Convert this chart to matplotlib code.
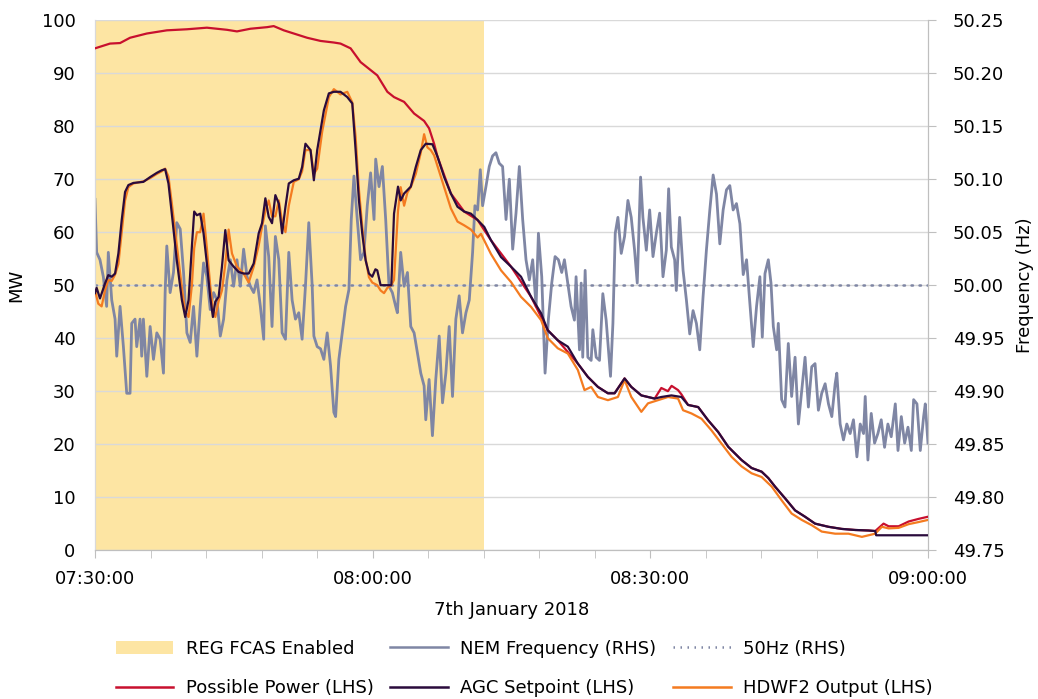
import matplotlib
matplotlib.use('Agg')
import matplotlib.pyplot as plt
from matplotlib.patches import Patch
from matplotlib.lines import Line2D

plt.rcParams['font.family'] = ['DejaVu Sans']

# minutes after 07:30:00
freq_t = [0.00, 0.18, 0.54, 0.90, 1.26, 1.44, 1.81, 2.17, 2.35, 2.71, 3.07, 3.43, 3.79, 3.97, 4.33, 4.51,
          4.87, 5.05, 5.23, 5.60, 5.96, 6.32, 6.68, 7.04, 7.40, 7.58, 7.76, 8.12, 8.48, 8.84, 9.21, 9.57,
          9.93, 10.29, 10.65, 11.01, 11.37, 11.73, 12.09, 12.45, 12.82, 13.18, 13.54, 13.90, 14.26, 14.62,
          14.98, 15.34, 15.70, 16.06, 16.43, 16.79, 17.15, 17.51, 17.87, 18.23, 18.41, 18.77, 19.13, 19.49,
          19.86, 20.22, 20.58, 20.94, 21.30, 21.66, 22.02, 22.38, 22.74, 23.10, 23.47, 23.65, 24.01, 24.37,
          24.73, 25.09, 25.45, 25.81, 26.00, 26.35, 26.72, 27.08, 27.44, 27.69, 27.98, 28.34, 28.70, 29.06,
          29.42, 29.78, 30.15, 30.33, 30.69, 31.05, 31.41, 31.77, 32.13, 32.49, 32.67, 33.03, 33.40, 33.76,
          34.12, 34.48, 34.84, 35.20, 35.56, 35.74, 36.10, 36.46, 36.82, 37.19, 37.55, 37.91, 38.27, 38.63,
          38.99, 39.35, 39.71, 40.08, 40.44, 40.80, 41.05, 41.34, 41.63, 41.88, 42.24, 42.60, 42.96, 43.32,
          43.68, 44.04, 44.41, 44.77, 45.13, 45.49, 45.85, 46.21, 46.57, 46.93, 47.29, 47.66, 47.91, 48.27,
          48.63, 48.99, 49.35, 49.71, 50.07, 50.43, 50.72, 51.08, 51.44, 51.80, 51.98, 52.35, 52.53, 52.70,
          52.96, 53.25, 53.61, 53.79, 54.15, 54.51, 54.87, 55.23, 55.70, 55.96, 56.21, 56.50, 56.86, 57.22,
          57.58, 57.94, 58.30, 58.59, 58.95, 59.20, 59.57, 59.93, 60.29, 60.65, 61.01, 61.37, 61.73, 61.98,
          62.27, 62.63, 62.81, 63.17, 63.54, 63.90, 64.26, 64.62, 64.98, 65.34, 65.70, 66.06, 66.43, 66.79,
          67.15, 67.51, 67.87, 68.23, 68.59, 68.95, 69.31, 69.68, 70.04, 70.40, 70.65, 71.12, 71.48, 71.84,
          72.10, 72.39, 72.75, 73.04, 73.29, 73.65, 73.83, 74.19, 74.55, 74.91, 75.27, 75.64, 76.00, 76.36,
          76.72, 77.08, 77.44, 77.80, 78.16, 78.52, 78.89, 79.25, 79.61, 79.97, 80.15, 80.51, 80.87, 81.23,
          81.59, 81.95, 82.32, 82.68, 83.04, 83.22, 83.51, 83.87, 84.23, 84.59, 84.95, 85.31, 85.67, 86.03,
          86.47, 86.76, 87.12, 87.48, 87.84, 88.20, 88.45, 88.81, 89.17, 89.53, 89.71, 90.00]
freq_hz = [50.081, 50.031, 50.024, 50.008, 49.980, 50.031, 49.986, 49.968, 49.933, 49.980, 49.942, 49.898,
           49.898, 49.964, 49.968, 49.942, 49.968, 49.933, 49.968, 49.914, 49.961, 49.930, 49.955, 49.949,
           49.917, 49.993, 50.037, 49.993, 50.012, 50.059, 50.053, 50.012, 49.955, 49.946, 49.980, 49.933,
           49.980, 50.021, 50.008, 49.977, 49.993, 49.986, 49.952, 49.968, 50.005, 50.024, 49.999, 50.024,
           49.999, 50.034, 50.008, 49.999, 49.993, 50.005, 49.980, 49.949, 50.056, 50.027, 49.961, 50.046,
           50.024, 49.955, 49.949, 50.031, 49.986, 49.968, 49.974, 49.949, 49.999, 50.059, 49.999, 49.952,
           49.942, 49.940, 49.930, 49.955, 49.924, 49.880, 49.876, 49.930, 49.955, 49.980, 49.996, 50.062,
           50.103, 50.062, 50.024, 50.031, 50.075, 50.106, 50.062, 50.119, 50.093, 50.112, 50.062, 49.999,
           49.993, 49.980, 49.974, 50.031, 49.999, 50.012, 49.961, 49.955, 49.936, 49.917, 49.905, 49.873,
           49.911, 49.858, 49.911, 49.952, 49.889, 49.917, 49.961, 49.895, 49.968, 49.990, 49.955, 49.974,
           49.986, 50.031, 50.075, 50.071, 50.109, 50.075, 50.093, 50.112, 50.122, 50.125, 50.115, 50.112,
           50.062, 50.100, 50.034, 50.068, 50.112, 50.062, 50.024, 50.005, 50.024, 49.980, 50.049, 50.008,
           49.917, 49.968, 50.002, 50.027, 50.024, 50.012, 50.024, 50.002, 49.980, 49.967, 50.008, 49.939,
           50.002, 49.932, 50.014, 49.932, 49.929, 49.958, 49.932, 49.929, 49.992, 49.967, 49.914, 49.964,
           50.049, 50.064, 50.030, 50.046, 50.080, 50.064, 50.033, 50.002, 50.102, 50.064, 50.033, 50.071,
           50.027, 50.049, 50.068, 50.008, 50.033, 50.091, 50.036, 50.024, 49.995, 50.064, 50.014, 49.986,
           49.954, 49.976, 49.964, 49.939, 49.989, 50.033, 50.071, 50.104, 50.086, 50.039, 50.071, 50.090,
           50.094, 50.071, 50.077, 50.058, 50.010, 50.024, 49.995, 49.942, 49.980, 50.008, 49.951, 50.011,
           50.024, 50.002, 49.961, 49.939, 49.964, 49.892, 49.885, 49.945, 49.895, 49.932, 49.869, 49.901,
           49.932, 49.885, 49.923, 49.926, 49.882, 49.898, 49.907, 49.888, 49.876, 49.907, 49.917, 49.869,
           49.854, 49.869, 49.860, 49.873, 49.838, 49.869, 49.860, 49.895, 49.835, 49.879, 49.851, 49.860,
           49.873, 49.847, 49.869, 49.857, 49.888, 49.844, 49.876, 49.851, 49.866, 49.844, 49.892, 49.888,
           49.844, 49.876, 49.888, 49.851]

agc_t = [0.00, 0.18, 0.54, 1.08, 1.44, 1.81, 2.17, 2.53, 2.89, 3.25, 3.61, 4.15, 5.23, 5.96, 6.68, 7.22,
         7.58, 7.94, 8.30, 8.84, 9.39, 9.75, 10.11, 10.47, 10.72, 11.01, 11.37, 11.73, 12.09, 12.45, 12.74,
         13.00, 13.36, 13.72, 14.08, 14.44, 14.98, 15.52, 16.06, 16.61, 17.15, 17.69, 18.05, 18.41, 18.77,
         19.13, 19.49, 19.86, 20.22, 20.58, 20.94, 21.48, 22.02, 22.38, 22.74, 23.29, 23.65, 24.01, 24.73,
         25.27, 25.81, 26.53, 27.26, 27.80, 28.16, 28.52, 28.88, 29.24, 29.60, 29.96, 30.30, 30.50, 30.86,
         31.59, 32.02, 32.31, 32.74, 33.03, 33.40, 34.12, 34.66, 35.20, 35.74, 36.46, 37.00, 37.73, 38.45,
         39.17, 39.89, 40.62, 41.34, 42.06, 42.78, 43.87, 44.95, 46.03, 47.12, 48.20, 48.92, 50.00, 51.09,
         52.17, 53.25, 54.34, 55.42, 56.14, 57.22, 57.95, 59.03, 59.75, 60.47, 61.19, 62.28, 63.36, 64.08,
         65.17, 66.25, 67.33, 68.42, 69.86, 70.94, 72.03, 72.75, 73.47, 74.55, 75.64, 76.72, 77.80, 79.25,
         80.69, 82.13, 83.58, 84.30, 84.40, 90.00]
agc_mw = [48.5, 49.5, 47.5, 50.3, 51.9, 51.6, 52.2, 56.0, 62.3, 67.6, 68.9, 69.3, 69.5, 70.4, 71.2, 71.7,
          71.9, 69.2, 63.5, 54.7, 47.2, 44.0, 47.2, 57.3, 63.9, 63.2, 63.5, 59.8, 54.1, 47.8, 44.0,
          46.9, 47.8, 53.5, 60.4, 54.7, 53.5, 52.5, 52.2, 52.2, 54.1, 59.8, 61.7, 66.4, 62.9,
          61.7, 67.0, 65.4, 59.8, 64.8, 69.2, 69.8, 70.1, 72.3, 76.7, 75.5, 69.8, 75.5, 83.0,
          86.2, 86.5, 86.5, 85.5, 84.3, 75.5, 66.0, 59.7, 54.7, 52.2, 51.6, 53.0, 52.8, 50.0,
          50.0, 50.0, 63.5, 68.6, 66.0, 67.3, 68.6, 72.3, 75.5, 76.7, 76.6, 74.3, 70.4, 67.3,
          64.8, 63.9, 63.5, 62.3, 61.0, 58.5, 55.3, 53.5, 51.6, 47.8, 44.7, 41.5, 39.6, 38.4,
          35.2, 32.7, 30.8, 29.6, 29.6, 32.4, 30.8, 29.2, 28.9, 28.6, 28.9, 29.2, 28.9, 27.4,
          27.0, 24.5, 22.3, 19.5, 17.0, 15.5, 14.8, 13.6, 12.0, 9.8, 7.5, 6.3, 5.0, 4.4,
          4.0, 3.8, 3.7, 3.6, 2.8, 2.8]

out_t = [0.00, 0.36, 0.72, 1.08, 1.44, 1.81, 2.17, 2.53, 2.89, 3.25, 3.61, 4.15, 5.23, 5.96, 6.68, 7.22,
         7.58, 7.94, 8.30, 8.84, 9.39, 9.75, 10.11, 10.47, 10.72, 11.01, 11.37, 11.73, 12.09, 12.45, 12.74,
         13.00, 13.36, 13.72, 14.08, 14.44, 14.80, 15.34, 16.06, 16.61, 17.15, 17.69, 18.05, 18.41, 18.77,
         19.13, 19.49, 19.86, 20.22, 20.58, 20.94, 21.48, 22.02, 22.38, 22.74, 23.29, 23.65, 24.01, 24.55,
         25.27, 25.81, 26.53, 27.26, 27.80, 28.16, 28.52, 28.88, 29.24, 29.60, 29.96, 30.50, 30.86, 31.23,
         31.59, 32.02, 32.31, 32.74, 33.03, 33.40, 33.76, 34.12, 34.66, 35.20, 35.56, 35.92, 36.28, 36.64,
         37.00, 37.73, 38.45, 39.17, 39.89, 40.62, 41.34, 41.70, 42.78, 43.87, 44.95, 46.03, 47.12, 48.20,
         48.92, 50.00, 51.09, 52.17, 52.89, 53.61, 54.34, 55.42, 56.50, 57.22, 57.95, 59.03, 59.75, 60.83,
         61.91, 63.00, 63.54, 64.44, 65.53, 66.61, 67.69, 68.78, 69.86, 70.94, 72.03, 73.11, 74.19, 75.27,
         76.36, 77.44, 78.52, 79.97, 81.41, 82.86, 84.30, 85.02, 85.75, 86.83, 87.91, 89.00, 90.00]
out_mw = [49.0, 46.5, 46.0, 49.0, 51.0, 50.8, 52.0, 54.0, 60.0, 66.0, 68.5, 69.2, 69.6, 70.2, 71.0, 71.5,
          72.0, 70.5, 65.5, 57.5, 49.5, 45.0, 44.0, 50.0, 57.0, 60.0, 60.0, 63.5, 57.0, 50.0, 45.5,
          44.0, 47.0, 49.0, 54.0, 60.5, 56.0, 53.5, 52.2, 50.5, 53.5, 57.5, 61.0, 64.0, 66.0,
          63.0, 63.0, 66.0, 62.0, 60.0, 65.0, 69.5, 70.0, 71.5, 75.5, 75.5, 71.0, 72.0, 79.0,
          85.5, 87.0, 86.0, 86.5, 84.5, 78.0, 68.0, 61.0, 55.0, 51.5, 50.5, 50.0, 49.0, 48.5,
          49.5, 50.0, 51.0, 64.0, 68.5, 65.0, 67.5, 68.5, 71.0, 75.0, 78.5, 76.0, 75.5, 74.5,
          72.5, 68.5, 64.5, 62.0, 61.3, 60.5, 59.0, 59.7, 55.9, 52.8, 50.6, 47.8, 45.9, 43.4,
          40.0, 38.1, 37.1, 34.0, 30.2, 30.8, 28.9, 28.3, 28.9, 32.1, 28.9, 26.1, 27.7, 28.3,
          28.9, 28.6, 26.4, 25.8, 24.8, 22.6, 20.1, 17.6, 15.8, 14.5, 13.8, 12.0, 9.4, 6.9,
          5.7, 4.7, 3.5, 3.1, 3.1, 2.5, 3.1, 4.4, 4.1, 4.2, 4.9, 5.3, 5.7]

poss_t = [0.00, 1.62, 2.71, 3.79, 5.60, 7.76, 9.93, 12.09, 14.26, 15.34, 16.79, 18.59, 19.31, 20.40, 21.48,
          22.92, 24.37, 25.81, 26.53, 27.62, 28.70, 29.78, 30.50, 31.59, 32.31, 33.40, 34.48, 35.56, 36.10,
          36.64, 37.00, 38.45, 39.89, 41.34, 42.78, 44.95, 47.12, 48.92, 50.00, 52.17, 53.25, 54.34, 55.42,
          56.14, 57.22, 57.95, 59.03, 60.47, 61.19, 61.90, 62.30, 63.00, 63.36, 64.08, 65.17, 66.25, 67.33,
          68.42, 69.86, 70.94, 72.03, 72.75, 73.47, 74.55, 75.64, 76.72, 77.80, 79.25, 80.69, 82.13, 83.58,
          84.30, 85.20, 85.75, 86.83, 87.91, 89.00, 90.00]
poss_mw = [94.7, 95.6, 95.7, 96.7, 97.5, 98.1, 98.3, 98.6, 98.2, 97.9, 98.4, 98.7, 98.9, 98.1, 97.5,
           96.7, 96.1, 95.8, 95.6, 94.7, 92.1, 90.6, 89.6, 86.5, 85.5, 84.6, 82.4, 81.0, 79.6,
           76.7, 74.3, 67.3, 63.9, 62.3, 58.5, 53.5, 47.8, 41.5, 39.6, 35.2, 32.7, 30.8, 29.6,
           29.6, 32.4, 30.8, 29.2, 28.6, 30.6, 30.0, 31.0, 30.2, 29.4, 27.4, 27.0, 24.5, 22.3,
           19.5, 17.0, 15.5, 14.8, 13.6, 12.0, 9.8, 7.5, 6.3, 5.0, 4.4, 4.0, 3.8, 3.7,
           3.6, 5.0, 4.5, 4.5, 5.4, 5.9, 6.3]

fcas_start, fcas_end = 0.0, 42.0
nominal_hz = 50.0
x_major = [0, 30, 60, 90]
x_labels = ['07:30:00', '08:00:00', '08:30:00', '09:00:00']

col_shade = '#FDE5A3'
col_freq = '#7F86A4'
col_poss = '#C8102E'
col_agc = '#2A0B3C'
col_out = '#F47B20'

fig = plt.figure(figsize=(10.38, 6.99), dpi=100)
ax = fig.add_axes([0.0915, 0.213, 0.8025, 0.758])
ax2 = ax.twinx()
ax.set_zorder(2)
ax2.set_zorder(1)
ax.patch.set_visible(False)

# back axes: shading, grid, frequency
ax2.set_axisbelow(True)
ax2.axvspan(fcas_start, fcas_end, color=col_shade, lw=0, zorder=0.2)
ax2.plot(freq_t, freq_hz, color=col_freq, lw=2.0, zorder=2)
ax2.axhline(nominal_hz, color=col_freq, lw=1.8, ls=(0, (0.6, 2.6)), dash_capstyle='round', zorder=2)
ax2.set_ylim(49.75, 50.25)
ax2.set_yticks([49.75 + 0.05 * i for i in range(11)])
ax2.set_yticklabels(['%.2f' % (49.75 + 0.05 * i) for i in range(11)])
ax2.grid(True, which='major', axis='y', color='#D9D9D9', lw=1)
ax2.set_ylabel('Frequency (Hz)', fontsize=13, labelpad=8)

# front axes: MW lines
ax.plot(poss_t, poss_mw, color=col_poss, lw=1.6, zorder=3)
ax.plot(out_t, out_mw, color=col_out, lw=1.6, zorder=4)
ax.plot(agc_t, agc_mw, color=col_agc, lw=1.6, zorder=5)
ax.set_ylim(0, 100)
ax.set_yticks(range(0, 101, 10))
ax.set_xlim(0, 90)
ax.set_xticks(x_major)
ax.set_xticklabels(x_labels)
ax.set_xticks(range(0, 91, 6), minor=True)
ax2.set_xticks(range(0, 91, 6), minor=True)
ax2.grid(True, which='minor', axis='x', color='#D9D9D9', lw=1)
ax.set_ylabel('MW', fontsize=13, labelpad=12)
ax.set_xlabel('7th January 2018', fontsize=13, labelpad=10)

for a in (ax, ax2):
    a.spines['top'].set_visible(False)
    a.spines['left'].set_color('#D9D9D9')
    a.spines['right'].set_color('#BFBFBF')
    a.spines['bottom'].set_color('#BFBFBF')
ax.tick_params(axis='y', length=0, labelsize=13, pad=14)
ax.tick_params(axis='x', which='both', length=6, color='#BFBFBF', labelsize=13, pad=8)
ax2.tick_params(axis='y', length=6, color='#BFBFBF', labelsize=13, pad=12)

handles = [
    Patch(facecolor=col_shade, edgecolor='none'),
    Line2D([], [], color=col_poss, lw=1.8),
    Line2D([], [], color=col_freq, lw=1.8),
    Line2D([], [], color=col_agc, lw=1.8),
    Line2D([], [], color=col_freq, lw=1.8, ls=(0, (0.6, 2.2))),
    Line2D([], [], color=col_out, lw=1.8),
]
labels = ['REG FCAS Enabled', 'Possible Power (LHS)', 'NEM Frequency (RHS)',
          'AGC Setpoint (LHS)', '50Hz (RHS)', 'HDWF2 Output (LHS)']
fig.legend(handles, labels, loc='upper center', bbox_to_anchor=(0.505, 0.095), ncol=3, frameon=False,
           fontsize=13, handlelength=3.2, handletextpad=0.7, columnspacing=0.9, labelspacing=1.2,
           borderaxespad=0)

fig.savefig('out.png', dpi=100)
